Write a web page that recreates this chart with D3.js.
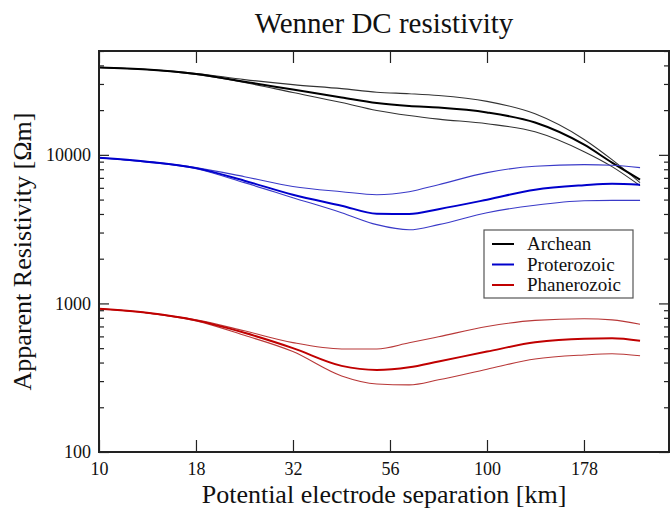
<!DOCTYPE html>
<html>
<head>
<meta charset="utf-8">
<script src="https://cdn.jsdelivr.net/npm/d3@7"></script>
<style>
  body { margin: 0; background: #fff; }
  svg text { font-family: "Liberation Serif", "Times New Roman", serif; fill: #111; }
  .axis path { display: none; }
  .axis line { stroke: #222; stroke-width: 1.2; }
</style>
</head>
<body>
<div id="chart"></div>
<script>
// separation [km]
var separation = [10, 13.3, 17.8, 23.7, 31.6, 42.2, 52, 63, 75, 100, 133, 178, 210, 248];

// apparent resistivity [ohm m], median and the two bounding curves
var archeanMid = [38700, 37500, 35000, 31100, 27500, 24300, 22300, 21300, 20800, 19300, 16500, 11700, 8860, 6810];
var archeanHigh = [38700, 37500, 35300, 32100, 29700, 27900, 26400, 25800, 25100, 22900, 18900, 12700, 9280, 6500];
var archeanLow = [38700, 37500, 34700, 30700, 26300, 22500, 19900, 18400, 17400, 16200, 14300, 10500, 8330, 6200];

var proterozoicMid = [9570, 9000, 8140, 6700, 5390, 4550, 4020, 4000, 4310, 4990, 5830, 6250, 6400, 6300];
var proterozoicHigh = [9570, 9000, 8200, 7130, 6130, 5650, 5390, 5650, 6300, 7590, 8390, 8590, 8520, 8200];
var proterozoicLow = [9570, 8930, 8070, 6500, 5150, 4080, 3390, 3130, 3390, 4080, 4580, 4910, 4940, 4940];

var phanerozoicMid = [920, 864, 769, 634, 500, 380, 357, 372, 407, 474, 547, 579, 582, 560];
var phanerozoicHigh = [920, 864, 775, 654, 545, 494, 494, 543, 596, 699, 769, 788, 775, 725];
var phanerozoicLow = [920, 864, 763, 610, 474, 325, 287, 283, 306, 361, 423, 450, 458, 444];

var xTickValues = [10, 17.78, 31.62, 56.23, 100, 177.8];
var xTickLabels = ["10", "18", "32", "56", "100", "178"];
var yTickValues = [100, 1000, 10000];
var yTickLabels = ["100", "1000", "10000"];

var legendNames = ["Archean", "Proterozoic", "Phanerozoic"];

function init() {
    var w = 670;
    var h = 513;
    var left = 99, right = 669, top = 51, bottom = 452;

    var svg = d3.select("#chart").append("svg").attr("width", w).attr("height", h);

    var xScale = d3.scaleLog().domain([10, Math.pow(10, 1 + 570 / 388)]).range([left, right]);
    var yScale = d3.scaleLog().domain([100, 50000]).range([bottom, top]);

    var minorY = yScale.ticks().filter(function (d) { return yTickValues.indexOf(d) < 0; });

    // x axes, ticks pointing in
    svg.append("g").attr("class", "axis")
        .attr("transform", "translate(0," + bottom + ")")
        .call(d3.axisBottom(xScale).tickValues(xTickValues).tickSize(-12).tickPadding(10)
            .tickFormat(function (d, i) { return xTickLabels[i]; }))
        .selectAll("text").style("font-size", "18px");

    svg.append("g").attr("class", "axis")
        .attr("transform", "translate(0," + top + ")")
        .call(d3.axisTop(xScale).tickValues(xTickValues).tickSize(-12).tickFormat(""));

    // y axes, major and minor
    svg.append("g").attr("class", "axis")
        .attr("transform", "translate(" + left + ",0)")
        .call(d3.axisLeft(yScale).tickValues(yTickValues).tickSize(-10).tickPadding(8)
            .tickFormat(function (d, i) { return yTickLabels[i]; }))
        .selectAll("text").style("font-size", "18px");

    svg.append("g").attr("class", "axis")
        .attr("transform", "translate(" + left + ",0)")
        .call(d3.axisLeft(yScale).tickValues(minorY).tickSize(-5).tickFormat(""));

    svg.append("g").attr("class", "axis")
        .attr("transform", "translate(" + right + ",0)")
        .call(d3.axisRight(yScale).tickValues(yTickValues).tickSize(-10).tickFormat(""));

    svg.append("g").attr("class", "axis")
        .attr("transform", "translate(" + right + ",0)")
        .call(d3.axisRight(yScale).tickValues(minorY).tickSize(-5).tickFormat(""));

    // curves
    var line = d3.line()
        .x(function (d) { return xScale(d[0]); })
        .y(function (d) { return yScale(d[1]); })
        .curve(d3.curveMonotoneX);

    var series = [
        { values: archeanHigh, color: "#333", width: 1.1 },
        { values: archeanLow, color: "#333", width: 1.1 },
        { values: archeanMid, color: "#000", width: 2 },
        { values: proterozoicHigh, color: "#3a3ac8", width: 1.1 },
        { values: proterozoicLow, color: "#3a3ac8", width: 1.1 },
        { values: proterozoicMid, color: "#0000cc", width: 2 },
        { values: phanerozoicHigh, color: "#b83838", width: 1.1 },
        { values: phanerozoicLow, color: "#b83838", width: 1.1 },
        { values: phanerozoicMid, color: "#c00000", width: 2 }
    ];

    series.forEach(function (s) {
        svg.append("path")
            .attr("d", line(d3.zip(separation, s.values)))
            .attr("fill", "none")
            .attr("stroke", s.color)
            .attr("stroke-width", s.width)
            .attr("stroke-linejoin", "round");
    });

    // frame
    svg.append("rect")
        .attr("x", left).attr("y", top)
        .attr("width", right - left).attr("height", bottom - top)
        .attr("fill", "none").attr("stroke", "#222").attr("stroke-width", 2);

    // legend
    var legendColors = ["#000", "#0000cc", "#c00000"];
    var lg = svg.append("g").attr("transform", "translate(484,230)");
    lg.append("rect").attr("width", 149).attr("height", 68)
        .attr("fill", "#fff").attr("stroke", "#555").attr("stroke-width", 1.2);
    legendNames.forEach(function (name, i) {
        var y = 14 + i * 20.5;
        lg.append("line").attr("x1", 8).attr("x2", 30).attr("y1", y).attr("y2", y)
            .attr("stroke", legendColors[i]).attr("stroke-width", 2);
        lg.append("text").attr("x", 43).attr("y", y + 6).style("font-size", "19px").text(name);
    });

    // titles
    svg.append("text")
        .attr("x", (left + right) / 2).attr("y", 33)
        .attr("text-anchor", "middle").style("font-size", "29px")
        .text("Wenner DC resistivity");

    svg.append("text")
        .attr("x", (left + right) / 2).attr("y", 503)
        .attr("text-anchor", "middle").style("font-size", "26px")
        .text("Potential electrode separation [km]");

    svg.append("text")
        .attr("transform", "translate(31," + ((top + bottom) / 2) + ") rotate(-90)")
        .attr("text-anchor", "middle").style("font-size", "26px")
        .text("Apparent Resistivity [Ωm]");
}
window.onload = init;
</script>
</body>
</html>
